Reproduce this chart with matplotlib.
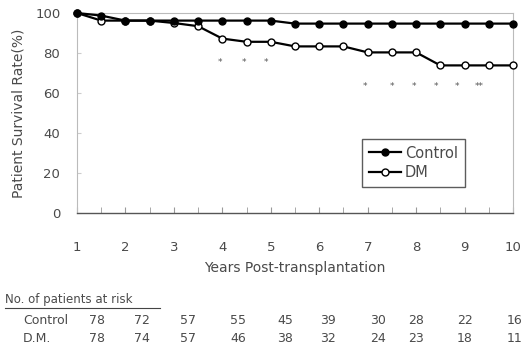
import matplotlib
matplotlib.use("Agg")
import matplotlib.pyplot as plt
import matplotlib.transforms as mtransforms
from matplotlib.ticker import MultipleLocator

# ---- data ----
years = [1, 1.5, 2, 2.5, 3, 3.5, 4, 4.5, 5, 5.5, 6, 6.5, 7, 7.5, 8, 8.5, 9, 9.5, 10]
control = [100, 98.7, 96.2, 96.2, 96.2, 96.2, 96.2, 96.2, 96.2, 94.7,
           94.7, 94.7, 94.7, 94.7, 94.7, 94.7, 94.7, 94.7, 94.7]
dm = [100, 96.2, 96.2, 96.2, 95.0, 93.4, 87.2, 85.6, 85.6, 83.3,
      83.3, 83.3, 80.3, 80.3, 80.3, 73.8, 73.8, 73.8, 73.8]

star_x = [3.95, 4.45, 4.9, 6.95, 7.5, 7.95, 8.4, 8.85, 9.3]
star_y = [75, 75, 75, 63.5, 63.5, 63.5, 63.5, 63.5, 63.5]
star_txt = ["*", "*", "*", "*", "*", "*", "*", "*", "**"]

x_ticks = [1, 2, 3, 4, 5, 6, 7, 8, 9, 10]
y_ticks = [0, 20, 40, 60, 80, 100]

risk_x = [1.41, 2.34, 3.29, 4.32, 5.29, 6.18, 7.21, 8.0, 9.01, 10.04]
risk_control = [78, 72, 57, 55, 45, 39, 30, 28, 22, 16]
risk_dm = [78, 74, 57, 46, 38, 32, 24, 23, 18, 11]

TXT = "#4a4a4a"
W, H = 525, 363

fig = plt.figure(figsize=(W / 100, H / 100), dpi=100)
ax = fig.add_axes([77 / W, 1 - 213 / H, (513 - 77) / W, 200 / H])

ax.plot(years, control, color="black", lw=1.6, marker="o", ms=5,
        mfc="black", mec="black", mew=1, label="Control", clip_on=False, zorder=4)
ax.plot(years, dm, color="black", lw=1.6, marker="o", ms=5,
        mfc="white", mec="black", mew=1, label="DM", clip_on=False, zorder=3)

for sx, sy, st in zip(star_x, star_y, star_txt):
    ax.text(sx, sy, st, ha="center", va="center", fontsize=6.5, color="#555555")

ax.set_xlim(1, 10)
ax.set_ylim(0, 100)
ax.set_xticks(x_ticks)
ax.xaxis.set_minor_locator(MultipleLocator(0.5))
ax.set_yticks(y_ticks)

for s in ["top", "right", "left"]:
    ax.spines[s].set_color("#bbbbbb")
    ax.spines[s].set_linewidth(0.8)
ax.spines["bottom"].set_color("#555555")
ax.spines["bottom"].set_linewidth(1.0)

ax.tick_params(axis="y", direction="in", length=3, color="#cccccc",
               labelsize=9.5, labelcolor=TXT, pad=12)
ax.tick_params(axis="x", which="both", direction="in", length=4, color="#999999",
               labelsize=9.5, labelcolor=TXT, pad=20)

ax.set_ylabel("Patient Survival Rate(%)", fontsize=10, color=TXT, labelpad=7)
ax.set_xlabel("Years Post-transplantation", fontsize=10, color=TXT, labelpad=5)

leg = ax.legend(loc="upper left", bbox_to_anchor=(362 / W, 1 - 139 / H),
                bbox_transform=fig.transFigure, fontsize=10.5, frameon=True,
                fancybox=False, edgecolor="#333333", handlelength=2.2,
                handletextpad=0.3, borderpad=0.45, labelspacing=0.3,
                borderaxespad=0)
for t in leg.get_texts():
    t.set_color(TXT)
leg.get_frame().set_linewidth(1.0)

# risk table
fig.text(5 / W, 1 - 300 / H, "No. of patients at risk", fontsize=8.5,
         color=TXT, ha="left", va="center")
fig.add_artist(plt.Line2D([5 / W, 160 / W], [1 - 308 / H, 1 - 308 / H],
                          color="#444444", lw=0.8))
fig.text(23 / W, 1 - 320 / H, "Control", fontsize=9, color=TXT, ha="left", va="center")
fig.text(23 / W, 1 - 339 / H, "D.M.", fontsize=9, color=TXT, ha="left", va="center")
trans = mtransforms.blended_transform_factory(ax.transData, fig.transFigure)
for rx, rc, rd in zip(risk_x, risk_control, risk_dm):
    ax.text(rx, 1 - 320 / H, str(rc), transform=trans, fontsize=9, color=TXT,
            ha="center", va="center", clip_on=False)
    ax.text(rx, 1 - 339 / H, str(rd), transform=trans, fontsize=9, color=TXT,
            ha="center", va="center", clip_on=False)

fig.savefig("out.png", dpi=100)
